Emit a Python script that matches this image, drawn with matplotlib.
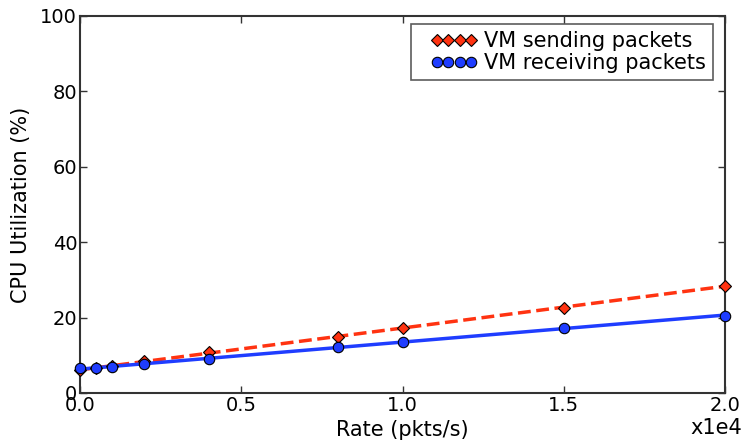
import numpy as np
import matplotlib
matplotlib.use('Agg')
import matplotlib.pyplot as plt
from matplotlib.legend_handler import HandlerLine2D

rate = np.array([0, 500, 1000, 2000, 4000, 8000, 10000, 15000, 20000])
send_cpu = np.array([6.0, 6.5, 7.2, 8.6, 10.8, 14.9, 17.2, 22.6, 28.4])
recv_cpu = np.array([6.5, 6.5, 7.0, 7.7, 9.1, 12.1, 13.6, 17.2, 20.5])
xticks = [0, 5000, 10000, 15000, 20000]
yticks = [0, 20, 40, 60, 80, 100]

red = '#ff3311'
blue = '#1f3dff'

fig = plt.figure(figsize=(7.44, 4.41), dpi=100)
ax = fig.add_axes([0.1075, 0.109, 0.867, 0.855])

# linear fits drawn as lines, measurements as markers
xs = np.array([rate[0], rate[-1]])
ps = np.polyfit(rate, send_cpu, 1)
pr = np.polyfit(rate, recv_cpu, 1)
ax.plot(xs, np.polyval(ps, xs), '--', color=red, lw=2.5, zorder=2)
ax.plot(xs, np.polyval(pr, xs), '-', color=blue, lw=2.5, zorder=2)
hs, = ax.plot(rate, send_cpu, 'D', color=red, mec='black', mew=0.8, ms=6.5,
              label='VM sending packets', clip_on=False, zorder=3)
hr, = ax.plot(rate, recv_cpu, 'o', color=blue, mec='black', mew=0.8, ms=7.5,
              label='VM receiving packets', clip_on=False, zorder=3)

ax.set_xlim(0, 20000)
ax.set_ylim(0, 100)
ax.set_xticks(xticks)
ax.set_xticklabels(['%.1f' % (v / 1e4) for v in xticks])
ax.set_yticks(yticks)
ax.tick_params(direction='in', top=True, right=True, length=5, width=1,
               labelsize=14, colors='#333333', labelcolor='black', pad=2)
for s in ax.spines.values():
    s.set_color('#333333')
    s.set_linewidth(1.5)

ax.set_xlabel('Rate (pkts/s)', fontsize=15, labelpad=4)
ax.set_ylabel('CPU Utilization (%)', fontsize=15, labelpad=7)
ax.text(1.026, -0.093, 'x1e4', transform=ax.transAxes, ha='right', va='center', fontsize=15)

hm = {hs: HandlerLine2D(numpoints=4, xpad=0.6), hr: HandlerLine2D(numpoints=4, xpad=0.6)}
leg = ax.legend(handles=[hs, hr], handler_map=hm, loc='upper right',
                bbox_to_anchor=(0.982, 0.979), markerscale=1.0,
                fontsize=15, fancybox=False, frameon=True, borderaxespad=0.0,
                handlelength=2.8, handletextpad=0.35, labelspacing=0.1,
                borderpad=0.35)
leg.get_frame().set_edgecolor('#333333')
leg.get_frame().set_linewidth(1.2)

fig.savefig('out.png', dpi=100)
